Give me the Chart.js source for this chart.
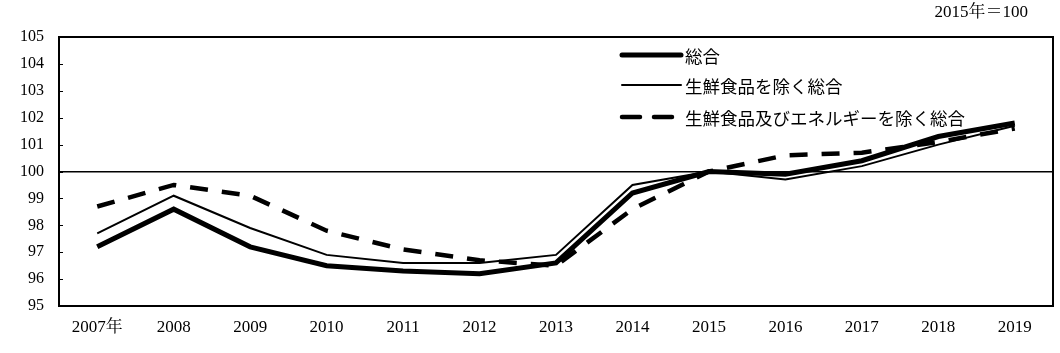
<!DOCTYPE html>
<html>
<head>
<meta charset="utf-8">
<script src="https://cdn.jsdelivr.net/npm/chart.js@4/dist/chart.umd.min.js"></script>
<style>
html,body{margin:0;padding:0;background:#fff;}
#wrap{width:1060px;height:353px;position:relative;}
</style>
</head>
<body>
<div id="wrap"><canvas id="c" width="1060" height="353"></canvas></div>
<script>
const categories = ["2007年","2008","2009","2010","2011","2012","2013","2014","2015","2016","2017","2018","2019"];
const seriesNames = ["総合","生鮮食品を除く総合","生鮮食品及びエネルギーを除く総合"];
const sogo      = [97.2, 98.6, 97.2, 96.5, 96.3, 96.2, 96.6, 99.2, 100.0, 99.9, 100.4, 101.3, 101.8];
const core      = [97.7, 99.1, 97.9, 96.9, 96.6, 96.6, 96.9, 99.5, 100.0, 99.7, 100.2, 101.0, 101.7];
const coreCore  = [98.7, 99.5, 99.1, 97.8, 97.1, 96.7, 96.5, 98.6, 100.0, 100.6, 100.7, 101.1, 101.6];
const yTicks = [95,96,97,98,99,100,101,102,103,104,105];
const baseNote = "2015年＝100";

const FONT = '"Liberation Serif","Noto Serif CJK JP","Noto Sans CJK JP",serif';
const LFONT = '"Noto Sans CJK JP","Liberation Serif",sans-serif';

const styles = [
  {width:5, dash:[]},
  {width:2, dash:[]},
  {width:4.5, dash:[18,14]}
];

const framePlugin = {
  id:'frame',
  afterDraw(chart){
    const {ctx, chartArea:a, scales:{y}} = chart;
    ctx.save();
    ctx.strokeStyle='#000';
    ctx.lineWidth=2;
    ctx.strokeRect(a.left, a.top, a.right-a.left, a.bottom-a.top);
    ctx.lineWidth=1;
    yTicks.forEach(v=>{
      const py = Math.round(y.getPixelForValue(v))+0.5;
      ctx.beginPath(); ctx.moveTo(a.left, py); ctx.lineTo(a.left+4, py); ctx.stroke();
    });
    const lx = 622, lx2 = 681;
    const ys = [55, 85, 117];
    chart.data.datasets.forEach((ds,i)=>{
      ctx.beginPath();
      ctx.setLineDash(styles[i].dash);
      ctx.lineWidth = styles[i].width;
      ctx.lineCap = 'round';
      ctx.moveTo(lx, ys[i]); ctx.lineTo(lx2, ys[i]);
      ctx.stroke();
      ctx.setLineDash([]);
      ctx.fillStyle='#000';
      ctx.font = '17.5px '+LFONT;
      ctx.textBaseline='middle';
      ctx.textAlign='left';
      ctx.fillText(ds.label, 685, ys[i]+1);
    });
    ctx.font = '17px '+FONT;
    ctx.textAlign='right';
    ctx.textBaseline='middle';
    ctx.fillText(baseNote, 1028, 13);
    ctx.restore();
  }
};

const datasets = [sogo, core, coreCore].map((d,i)=>({
  label: seriesNames[i],
  data: d,
  borderColor:'#000',
  backgroundColor:'#000',
  borderWidth: styles[i].width,
  borderDash: styles[i].dash,
  pointRadius:0,
  tension:0,
  fill:false,
  borderCapStyle: 'butt',
  borderJoinStyle:'miter'
}));

new Chart(document.getElementById('c'), {
  type:'line',
  data:{labels:categories, datasets},
  options:{
    responsive:false,
    animation:false,
    devicePixelRatio:1,
    layout:{padding:{top:37,right:7,left:0,bottom:0}},
    plugins:{legend:{display:false}, tooltip:{enabled:false}},
    scales:{
      x:{
        offset:true,
        grid:{display:false, drawTicks:false},
        border:{display:false},
        ticks:{color:'#000', font:{family:FONT, size:17}, padding:11, maxRotation:0, autoSkip:false},
        afterFit(s){ s.height = 47; }
      },
      y:{
        min:95, max:105,
        afterBuildTicks(s){ s.ticks = yTicks.map(v=>({value:v})); },
        grid:{drawTicks:false, color:(c)=> c.tick && c.tick.value===100 ? '#000' : 'rgba(0,0,0,0)', lineWidth:1.5},
        border:{display:false},
        ticks:{color:'#000', font:{family:FONT, size:16}, padding:15},
        afterFit(s){ s.width = 59; }
      }
    }
  },
  plugins:[framePlugin]
});
</script>
</body>
</html>
